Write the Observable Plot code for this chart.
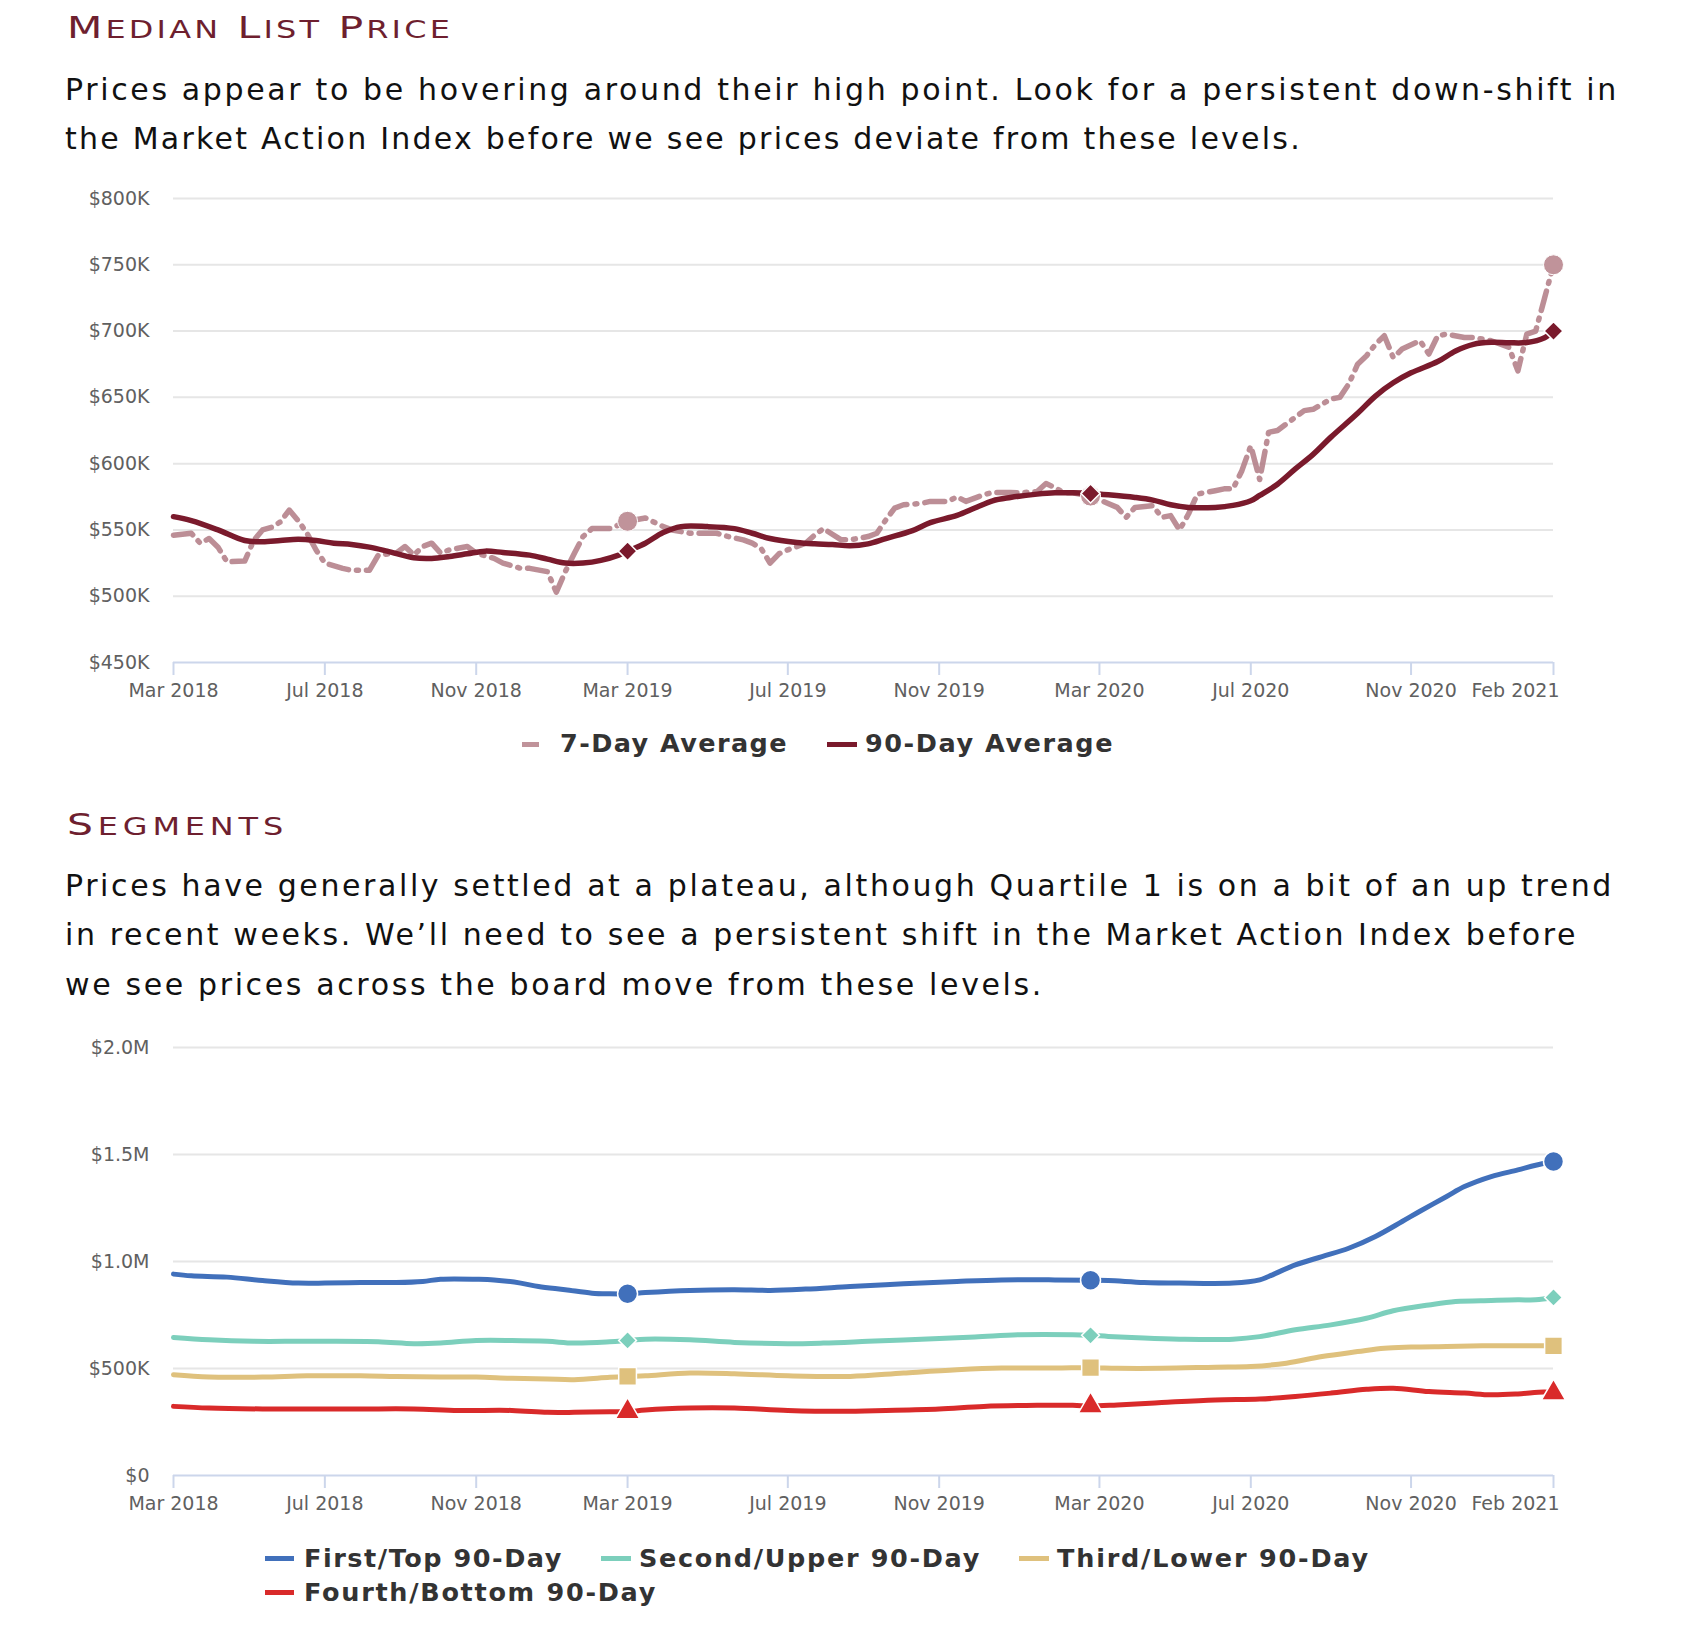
<!DOCTYPE html>
<html><head><meta charset="utf-8">
<script src="https://cdn.jsdelivr.net/npm/d3@7"></script>
<script src="https://cdn.jsdelivr.net/npm/@observablehq/plot@0.6"></script>
<style>
html,body{margin:0;padding:0;background:#fff;}
body{width:1700px;height:1652px;position:relative;overflow:hidden;font-family:"DejaVu Sans",sans-serif;}
.abs{position:absolute;white-space:nowrap;transform-origin:0 50%;}
.title{font-family:"DejaVu Sans",sans-serif;color:#6e1f2f;font-size:31px;line-height:1.164;}
.title .sc{font-size:0.78em;}
.para{font-size:30px;line-height:1.164;color:#111;}
.leg{font-weight:bold;font-size:25.5px;line-height:1.164;color:#333;}
.sym{position:absolute;height:5px;}
.chart{position:absolute;left:0;}
</style></head><body>
<div id="root"></div>
<script>
// ---------- data ----------
const firstWeek = [2018, 2, 9];           // weekly series start (Mar 9 2018)
const tickWeeks = [0, 17, 34, 51, 69, 86, 104, 121, 139, 155];
const tickLabels = ["Mar 2018","Jul 2018","Nov 2018","Mar 2019","Jul 2019","Nov 2019","Mar 2020","Jul 2020","Nov 2020","Feb 2021"];
const markerWeeks = [51, 103, 155];

const priceTicks = [450, 500, 550, 600, 650, 700, 750, 800];
const priceTickLabels = ["$450K","$500K","$550K","$600K","$650K","$700K","$750K","$800K"];
const segTicks = [0, 500, 1000, 1500, 2000];
const segTickLabels = ["$0","$500K","$1.0M","$1.5M","$2.0M"];

// Median list price, $K  [week, value]
const avg7 = [[0,546],[2,547.5],[3,540],[4,543.5],[5,537],[6,526],[8,526.5],[9,542],[10,550],[11,552],[12,556],[13,565],[14,557],[15,547.5],[16,535],[17,525],[19,521],[20,519.5],[22,519.5],[23,531],[25,532.5],[26,537.5],[27,531],[28,537.5],[29,540],[30,532.5],[31,535],[33,537.5],[34,532.5],[36,528.5],[37,525],[39,521],[40,521],[42,518.5],[43,503],[44,518.5],[45,532],[46,545],[47,551],[49,551],[51,556.5],
[53,559],[55,552.5],[56,550],[58,547.5],[59,547.5],[61,547.5],[62,545.5],[64,542.5],[65,540],[66,536],[67,525],[68,532],[69,535],[71,540],[72,546],[73,551],[75,542.5],[76,542.5],[78,545],[79,547.5],[80,557.5],[81,566.5],[82,569],[84,570],[85,571.5],[87,571.5],[88,575],[89,571.5],[91,576.5],[92,578.3],[94,578.3],[95,578],[97,579],[98,585],[99,582],[100,578],[101,578],[103,575.5],
[106,567],[107,559.5],[108,567],[110,568.3],[111,559.5],[112,560.8],[113,550],[114,562],[115,577],[117,579.6],[118,581],[119,581],[120,594.7],[121,613.5],[122,588],[123,623.6],[124,625],[125,630],[127,640],[128,641],[130,648.7],[131,650],[132,660],[133,675],[134,681.4],[135,690],[136,696.5],[137,680],[138,686.4],[140,692.7],[141,682.7],[142,696.5],[143,697.7],[145,695.2],[146,695.2],[148,692.7],[150,687.7],[151,670],[152,697.7],[153,700],[154,725],[155,750]];
const avg90 = [[0,560],[2,557],[5,550],[8,542],[10,541],[12,542],[14,543],[16,542],[18,540],[20,539],[22,537],[24,534],[27,529],[29,528.5],[31,530],[33,532],[35,534],[37,533],[40,531],[42,528],[44,525],[46,525],[48,527],[50,531],[51,534],[53,540],[55,548],[57,552.5],[60,552.5],[63,551],[65,547.5],[67,543.5],[70,540.5],[72,539.5],[74,539],[76,538],[78,539.5],[80,543.5],[83,549.5],[85,555.5],[88,561],[90,566.5],[92,572],[94,574.5],[97,577],[99,578],[101,578],[103,577.5],[105,576.5],[108,574.5],[110,572.5],[112,569],[114,567],[117,567],[119,568.5],[121,572],[122,576],[124,584.5],[126,596],[128,607],[130,620],[133,638],[135,651],[137,661],[139,668.5],[142,677],[144,685],[146,690],[148,691.5],[150,691.2],[152,691.4],[154,695],[155,700]];

// Segments, $K  [week, value]
const q1Top = [[0,941],[2,933],[6,927],[10,911],[14,899],[17,899],[21,902],[25,902],[28,907],[30,917],[34,917],[36,914],[39,899],[41,883],[44,868],[47,852],[49,849],[51,849],[53,855],[58,865],[63,868],[67,865],[71,871],[76,883],[82,896],[88,907],[93,914],[99,914],[103,912],[105,911],[109,902],[113,899],[119,899],[122,914],[123,930],[126,984],[129,1023],[132,1062],[135,1117],[138,1187],[140,1235],[143,1304],[145,1350],[148,1397],[151,1428],[153,1450],[155,1467]];
const q2Upper = [[0,645],[4,634],[9,627],[14,627],[17,627],[23,625],[27,616],[30,619],[34,631],[38,631],[42,627],[45,619],[49,625],[51,631],[53,637],[58,634],[63,622],[69,616],[73,619],[78,627],[84,637],[90,647],[95,658],[101,658],[103,655],[105,650],[109,642],[113,637],[119,637],[122,649],[126,681],[130,704],[134,735],[137,770],[141,797],[144,813],[148,818],[151,821],[153,821],[155,832]];
const q3Lower = [[0,471],[4,460],[10,460],[15,466],[21,466],[25,463],[30,460],[34,460],[38,454],[42,451],[45,448],[49,459],[51,463],[53,466],[58,479],[63,476],[69,466],[76,463],[82,479],[88,494],[93,502],[99,502],[103,504],[106,501],[111,501],[117,506],[121,509],[125,525],[129,556],[133,579],[136,595],[139,600],[143,603],[147,606],[151,606],[155,606]];
const q4Bottom = [[0,323],[4,315],[10,311],[15,311],[21,311],[27,311],[32,304],[38,304],[42,295],[45,295],[49,298],[51,298],[53,306],[58,315],[63,315],[69,304],[75,300],[80,304],[86,311],[91,323],[97,328],[101,328],[103,325],[106,330],[111,341],[117,353],[122,357],[126,369],[130,385],[134,403],[137,408],[141,392],[145,385],[148,377],[151,381],[154,390],[155,385]];

// ---------- helpers ----------
const wk = w => new Date(firstWeek[0], firstWeek[1], firstWeek[2] + 7 * w);
const rows = arr => arr.map(([w, v]) => ({date: wk(w), week: w, v}));
const tickDates = tickWeeks.map(wk);
const lastTick = tickDates.length - 1;
const xLabel = new Map(tickDates.map((d, i) => [+d, i === lastTick ? "" : tickLabels[i]]));
const markers = arr => rows(arr).filter(d => markerWeeks.includes(d.week));

const C = {
  d7: "#b07a84", d7dot: "#c0939a", d90: "#7a1a2c",
  blue: "#4170bb", teal: "#7ccfbc", tan: "#dfc17d", red: "#d92a2a",
  grid: "#e6e6e6", axis: "#ccd6eb", tick: "#606060"
};

const root = document.getElementById("root");
function fitWidth(d, target, maxScale, n) {
  const w = d.getBoundingClientRect().width;
  const s = Math.min(target / w, maxScale || 1);
  if (s !== 1) d.style.transform = `scaleX(${s})`;
  d.style.letterSpacing = ((target / s - w) / n) + "px";
}
function addText(cls, text, left, top, target, maxScale) {
  const d = document.createElement("div");
  d.className = "abs " + cls;
  d.textContent = text;
  d.style.left = left + "px";
  d.style.top = top + "px";
  root.appendChild(d);
  if (target) fitWidth(d, target, maxScale, text.length);
  return d;
}
// small-caps title: first letter of each word full size, rest smaller capitals
function addTitle(text, left, top, target) {
  const d = document.createElement("div");
  d.className = "abs title";
  d.style.left = left + "px";
  d.style.top = top + "px";
  text.split(" ").forEach((word, i) => {
    if (i) d.appendChild(document.createTextNode(" "));
    d.appendChild(document.createTextNode(word[0].toUpperCase()));
    const sc = document.createElement("span");
    sc.className = "sc";
    sc.textContent = word.slice(1).toUpperCase();
    d.appendChild(sc);
  });
  root.appendChild(d);
  fitWidth(d, target, 1.32, text.length);
  return d;
}
function addSym(left, width, cy, color) {
  const s = document.createElement("div");
  s.className = "sym";
  s.style.left = left + "px"; s.style.width = width + "px";
  s.style.top = (cy - 2.5) + "px"; s.style.background = color;
  root.appendChild(s);
}

// ---------- text ----------
addTitle("Median List Price", 67, 9, 386);
addText("para", "Prices appear to be hovering around their high point. Look for a persistent down-shift in", 65, 73, 1554);
addText("para", "the Market Action Index before we see prices deviate from these levels.", 65, 122, 1237);

addTitle("Segments", 67, 806, 221);
addText("para", "Prices have generally settled at a plateau, although Quartile 1 is on a bit of an up trend", 65, 869, 1549);
addText("para", "in recent weeks. We\u2019ll need to see a persistent shift in the Market Action Index before", 65, 918, 1513);
addText("para", "we see prices across the board move from these levels.", 65, 968, 979);

// ---------- shared axes ----------
const common = (yTicks, yLabels) => [
  Plot.gridY(yTicks.slice(1), {stroke: C.grid, strokeOpacity: 1, strokeWidth: 2}),
  Plot.ruleY([yTicks[0]], {stroke: C.axis, strokeWidth: 2}),
  Plot.axisX(tickDates, {tickFormat: d => xLabel.get(+d), tickSize: 13, tickPadding: 8, stroke: C.axis, strokeWidth: 2, fill: C.tick, fontSize: 19, label: null}),
  Plot.text([tickDates[lastTick]], {x: d => d, y: () => yTicks[0], text: () => tickLabels[lastTick], textAnchor: "end", lineAnchor: "top", dx: 6, dy: 21, fill: C.tick, fontSize: 19}),
  Plot.axisY(yTicks, {tickFormat: d => yLabels[yTicks.indexOf(d)], tickSize: 0, tickPadding: 24, fill: C.tick, fontSize: 19, label: null})
];

// ---------- chart 1 ----------
const chart1 = Plot.plot({
  width: 1700, height: 560,
  marginLeft: 173, marginRight: 147, marginTop: 38, marginBottom: 58,
  style: {fontFamily: "DejaVu Sans", background: "transparent", overflow: "visible"},
  x: {type: "time", domain: [wk(0), wk(155)]},
  y: {domain: [450, 800]},
  marks: [
    ...common(priceTicks, priceTickLabels),
    Plot.line(rows(avg7), {x: "date", y: "v", stroke: C.d7, strokeWidth: 5.5, strokeDasharray: "20,8,2,8", strokeOpacity: 0.85}),
    Plot.line(rows(avg90), {x: "date", y: "v", stroke: C.d90, strokeWidth: 5.5, curve: "catmull-rom"}),
    Plot.dot(markers(avg7), {x: "date", y: "v", r: 10, fill: C.d7dot, stroke: "white", strokeWidth: 1}),
    Plot.dot(markers(avg90), {x: "date", y: "v", r: 8.5, symbol: "diamond2", fill: C.d90, stroke: "white", strokeWidth: 1.5})
  ]
});
chart1.classList.add("chart");
chart1.style.top = "160px";
root.appendChild(chart1);

// legend 1
addSym(522, 17, 744, C.d7dot);
addText("leg", "7-Day Average", 560, 729, 228);
addSym(827, 30, 744, C.d90);
addText("leg", "90-Day Average", 865, 729, 249);

// ---------- chart 2 ----------
const segSeries = [
  {data: q1Top, color: C.blue, symbol: "circle", r: 10},
  {data: q2Upper, color: C.teal, symbol: "diamond2", r: 8},
  {data: q3Lower, color: C.tan, symbol: "square", r: 10},
  {data: q4Bottom, color: C.red, symbol: "triangle", r: 9}
];
const chart2 = Plot.plot({
  width: 1700, height: 530,
  marginLeft: 173, marginRight: 147, marginTop: 37, marginBottom: 65,
  style: {fontFamily: "DejaVu Sans", background: "transparent", overflow: "visible"},
  x: {type: "time", domain: [wk(0), wk(155)]},
  y: {domain: [0, 2000]},
  marks: [
    ...common(segTicks, segTickLabels),
    ...segSeries.map(s => Plot.line(rows(s.data), {x: "date", y: "v", stroke: s.color, strokeWidth: 5, curve: "catmull-rom"})),
    ...segSeries.map(s => Plot.dot(markers(s.data), {x: "date", y: "v", r: s.r, symbol: s.symbol, fill: s.color, stroke: "white", strokeWidth: 1.5}))
  ]
});
chart2.classList.add("chart");
chart2.style.top = "1010px";
root.appendChild(chart2);

// legend 2
addSym(265, 29, 1558, C.blue);
addText("leg", "First/Top 90-Day", 304, 1543.5, 259);
addSym(601, 30, 1558, C.teal);
addText("leg", "Second/Upper 90-Day", 639, 1543.5, 342);
addSym(1019, 30, 1558, C.tan);
addText("leg", "Third/Lower 90-Day", 1057, 1543.5, 313);
addSym(265, 29, 1592, C.red);
addText("leg", "Fourth/Bottom 90-Day", 304, 1577.5, 353);
</script>
</body></html>
